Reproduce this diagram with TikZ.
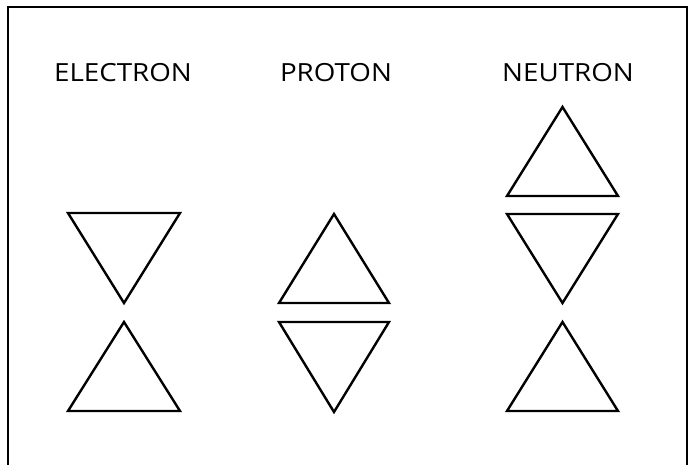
\documentclass[tikz,border=0pt]{standalone}
\usepackage{fontspec}
\setmainfont{Open Sans}
\newfontfamily\lblfont[FakeStretch=1.11]{Open Sans}
\begin{document}
\begin{tikzpicture}[x=1pt,y=-1pt,
  tri/.style={draw=black,line width=2.4pt,line join=miter},
  lbl/.style={font=\lblfont\fontsize{25}{29}\selectfont,inner sep=0pt,anchor=base}]
\useasboundingbox (0,0) rectangle (694,464);
\fill[white] (0,0) rectangle (694,464);
\begin{scope}
\clip (0,0) rectangle (694,464);
\draw[line width=1.5pt] (8,7) rectangle (687,480);
\end{scope}
% labels
\node[lbl] (electron) at (123,81) {ELECTRON};
\node[lbl] (proton) at (336,81) {PROTON};
\node[lbl] (neutron) at (568,81) {NEUTRON};
% electron
\draw[tri] (68,213) -- (180,213) -- (124,303) -- cycle;
\draw[tri] (124,322) -- (180,411) -- (68,411) -- cycle;
% proton
\draw[tri] (334,214) -- (389,303) -- (279,303) -- cycle;
\draw[tri] (279,322) -- (389,322) -- (334,412) -- cycle;
% neutron
\draw[tri] (562.5,107) -- (618,196) -- (507,196) -- cycle;
\draw[tri] (507,214) -- (618,214) -- (562.5,303) -- cycle;
\draw[tri] (562.5,322) -- (618,411) -- (507,411) -- cycle;
\end{tikzpicture}
\end{document}
